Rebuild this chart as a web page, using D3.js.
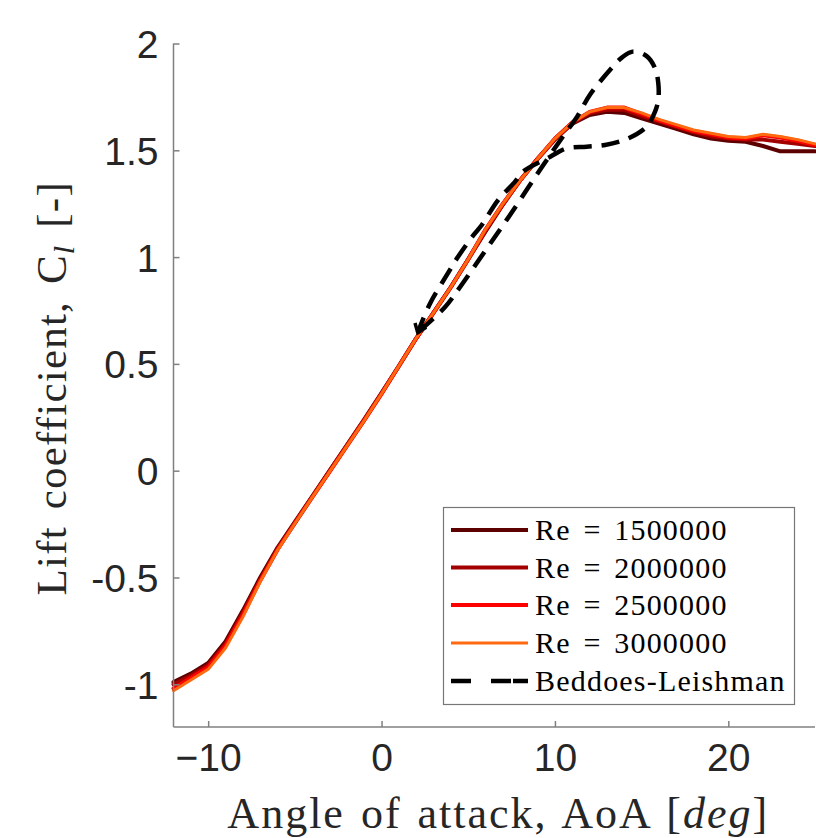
<!DOCTYPE html>
<html><head><meta charset="utf-8">
<script src="https://cdn.jsdelivr.net/npm/d3@7"></script>
<style>
html,body{margin:0;padding:0;background:#fff;}
svg{display:block;}
</style></head>
<body>
<svg id="chart" width="816" height="838"></svg>
<script>
// ---- data ----
const aoa = [-12,-11,-10,-9,-8,-7,-6,-5,-4,-3,-2,-1,0,1,2,3,4,5,6,7,8,9,10,11,12,13,14,15,16,17,18,19,20,21,22,23,24,25];
const clRe1500000 = [-0.99,-0.95,-0.90,-0.80,-0.655,-0.50,-0.36,-0.24,-0.12,0.00,0.12,0.24,0.365,0.49,0.62,0.74,0.86,0.99,1.12,1.245,1.36,1.46,1.55,1.625,1.665,1.68,1.675,1.65,1.625,1.60,1.575,1.555,1.545,1.54,1.52,1.495,1.495,1.495];
const clRe2000000 = [-1.00,-0.96,-0.91,-0.81,-0.665,-0.51,-0.365,-0.245,-0.122,-0.002,0.118,0.238,0.362,0.49,0.62,0.74,0.86,0.99,1.125,1.248,1.36,1.46,1.553,1.628,1.675,1.69,1.69,1.66,1.635,1.61,1.585,1.565,1.555,1.55,1.55,1.54,1.53,1.52];
const clRe2500000 = [-1.02,-0.97,-0.92,-0.82,-0.675,-0.515,-0.37,-0.245,-0.125,-0.005,0.115,0.235,0.36,0.49,0.62,0.74,0.86,0.99,1.13,1.25,1.36,1.46,1.555,1.63,1.68,1.70,1.70,1.67,1.64,1.615,1.59,1.575,1.56,1.555,1.57,1.56,1.545,1.525];
const clRe3000000 = [-1.03,-0.98,-0.93,-0.83,-0.685,-0.52,-0.372,-0.247,-0.125,-0.005,0.115,0.235,0.36,0.49,0.62,0.74,0.86,0.99,1.13,1.25,1.36,1.46,1.555,1.63,1.68,1.70,1.70,1.675,1.645,1.62,1.595,1.58,1.565,1.56,1.575,1.565,1.55,1.53];
const blAoA = [2.21,3.65,4.52,6.13,7.40,8.94,10.40,11.27,12.02,13.29,13.86,14.49,15.29,15.77,15.96,15.96,15.77,15.29,14.23,12.89,11.83,10.67,9.71,8.15,7.69,6.71,5.77,5.29,4.40,3.75,2.79,2.09];
const blCl  = [0.656,0.765,0.859,1.047,1.196,1.384,1.558,1.656,1.760,1.887,1.934,1.962,1.941,1.885,1.815,1.736,1.680,1.611,1.556,1.525,1.517,1.509,1.469,1.399,1.352,1.266,1.149,1.102,1.000,0.914,0.782,0.646];
const seriesNames = ["Re = 1500000","Re = 2000000","Re = 2500000","Re = 3000000"];
const blName = "Beddoes-Leishman";
const xTicks = [-10,0,10,20];
const yTicks = [-1,-0.5,0,0.5,1,1.5,2];
const yTickLabels = ["-1","-0.5","0","0.5","1","1.5","2"];

// ---- styles ----
const colors = ["#5c0000","#a30000","#ff0000","#ff6a10"];
const widths = [4,4,4,3];

const svg = d3.select("#chart");
const L = 173.5, R = 815, T = 43.5, B = 727;
const x = d3.scaleLinear().domain([-12,25]).range([L,R]);
const y = d3.scaleLinear().domain([-1.2,2]).range([B,T]);

const axisColor = "#808080";
const textColor = "#262626";

// data lines
const allCl = [clRe1500000, clRe2000000, clRe2500000, clRe3000000];
const line = d3.line().x(d=>x(d[0])).y(d=>y(d[1]));
const plot = svg.append("g");
allCl.forEach((cl,i)=>{
  plot.append("path")
    .attr("d", line(aoa.map((a,j)=>[a,cl[j]])))
    .attr("fill","none").attr("stroke",colors[i]).attr("stroke-width",widths[i])
    .attr("stroke-linejoin","round").attr("stroke-linecap","round");
});

// BL loop
const defs = svg.append("defs");
defs.append("marker").attr("id","arr").attr("viewBox","-10 -8 14 16")
  .attr("refX",0).attr("refY",0).attr("markerWidth",14).attr("markerHeight",16)
  .attr("markerUnits","userSpaceOnUse").attr("orient","auto")
  .append("path").attr("d","M-8,-6 L0,0 L-8,6").attr("fill","none")
  .attr("stroke","#000").attr("stroke-width",3.5);
plot.append("path")
  .attr("d", d3.line().x(d=>x(d[0])).y(d=>y(d[1])).curve(d3.curveCatmullRom)(blAoA.map((a,j)=>[a,blCl[j]])))
  .attr("fill","none").attr("stroke","#000").attr("stroke-width",4.5)
  .attr("stroke-dasharray","18,10").attr("marker-end","url(#arr)");

// axes
const gx = svg.append("g").attr("transform",`translate(0,${B})`)
  .call(d3.axisBottom(x).tickValues(xTicks).tickSize(-6).tickPadding(16).tickFormat(d3.format("d")));
const gy = svg.append("g").attr("transform",`translate(${L},0)`)
  .call(d3.axisLeft(y).tickValues(yTicks).tickSize(-6).tickPadding(15).tickFormat((d,i)=>yTickLabels[i]));
[gx,gy].forEach(g=>{
  g.select(".domain").attr("stroke",axisColor).attr("stroke-width",1.5);
  g.selectAll(".tick line").attr("stroke",axisColor).attr("stroke-width",1.5);
  g.selectAll(".tick text").attr("fill",textColor)
    .style("font-family","'Liberation Sans', Arial, sans-serif").style("font-size","39px");
});
gx.select(".domain").attr("d",`M${L},0H${R}`);
gy.select(".domain").attr("d",`M0,${B}V${T}`);
gx.selectAll(".tick text").attr("dy","0.71em");
gy.selectAll(".tick text").attr("dy","0.36em");

// axis labels
const serif = "'Liberation Serif','Times New Roman',serif";
const xl = svg.append("text").attr("x",(L+R)/2+4).attr("y",828).attr("text-anchor","middle")
  .attr("fill",textColor).style("font-family",serif).style("font-size","44px")
  .style("letter-spacing","2px").style("word-spacing","3px");
xl.append("tspan").text("Angle of attack, AoA [");
xl.append("tspan").text("deg").style("font-style","italic");
xl.append("tspan").text("]");

const yl = svg.append("text").attr("transform",`translate(66,${(T+B)/2+3}) rotate(-90)`).attr("text-anchor","middle")
  .attr("fill",textColor).style("font-family",serif).style("font-size","43px")
  .style("letter-spacing","1.2px").style("word-spacing","5px");
yl.append("tspan").text("Lift coefficient, C");
yl.append("tspan").text("l").style("font-style","italic").style("font-size","30px").attr("dy","8");
yl.append("tspan").text(" [-]").attr("dy","-8");

// legend
const lg = svg.append("g");
lg.append("rect").attr("x",443.5).attr("y",507.5).attr("width",351).attr("height",197)
  .attr("fill","#fff").attr("stroke","#777").attr("stroke-width",1.2);
const rowsY = [530,567.5,605,643,681];
const names = seriesNames.concat([blName]);
names.forEach((n,i)=>{
  const yy = rowsY[i];
  const ln = lg.append("line").attr("x1",451).attr("x2",528).attr("y1",yy).attr("y2",yy);
  if(i<4){ ln.attr("stroke",colors[i]).attr("stroke-width",widths[i]); }
  else { ln.attr("stroke","#000").attr("stroke-width",4.5).attr("stroke-dasharray","20,20,20,2,16"); }
  lg.append("text").attr("x",535).attr("y",yy+10).text(n)
    .attr("fill","#000").style("font-family",serif).style("font-size","30px")
    .style("letter-spacing","1.2px").style("word-spacing","4px");
});
</script>
</body></html>
